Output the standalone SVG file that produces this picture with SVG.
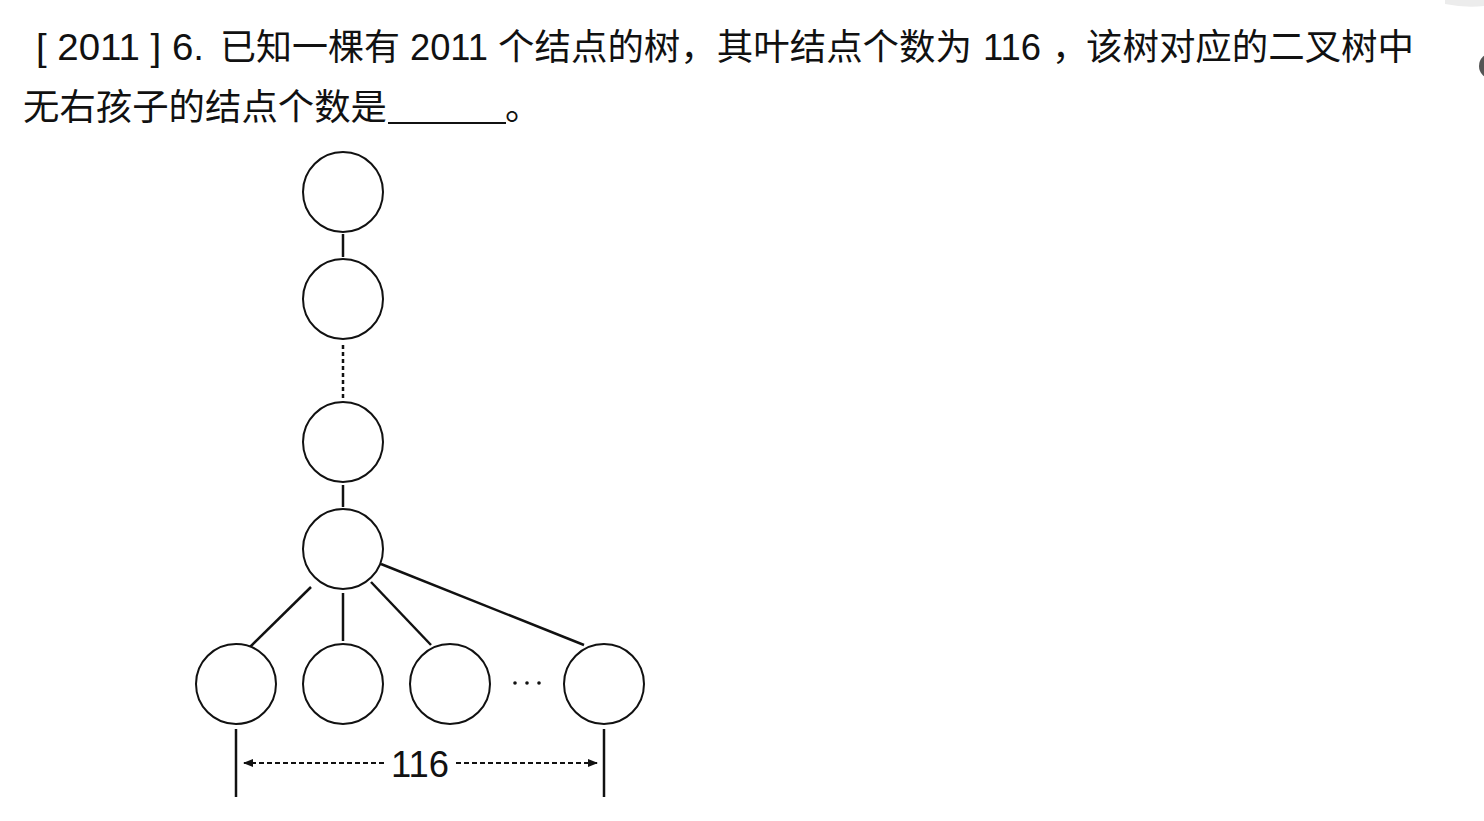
<svg xmlns="http://www.w3.org/2000/svg" width="1484" height="821" viewBox="0 0 1484 821">
<defs>
<style>
.t{font-family:"Liberation Sans","Noto Sans CJK SC",sans-serif;font-size:36px;fill:#111;}
.n{fill:#fff;stroke:#111;stroke-width:2;}
.e{stroke:#111;stroke-width:2.5;fill:none;}
.d{stroke:#111;stroke-width:2.5;fill:none;stroke-dasharray:4 3;}
.dim{stroke:#111;stroke-width:2;fill:none;stroke-dasharray:5 3;}
</style>
<marker id="ah" markerWidth="10" markerHeight="10" refX="9" refY="5" orient="auto" markerUnits="userSpaceOnUse">
<path d="M0,1 L10,5 L0,9 Z" fill="#111"/>
</marker>
</defs>
<rect width="1484" height="821" fill="#fff"/>
<path d="M1445,0 L1484,0 L1484,6 Q1465,8 1445,4 Z" fill="#ececec"/>
<circle cx="1492" cy="66" r="13" fill="#555"/>
<g id="question">
<text class="t" x="36" y="60" textLength="168" lengthAdjust="spacingAndGlyphs">[ 2011 ] 6.</text>
<text class="t" x="220" y="60" textLength="180" lengthAdjust="spacingAndGlyphs">已知一棵有</text>
<text class="t" x="410" y="60" textLength="78" lengthAdjust="spacingAndGlyphs">2011</text>
<text class="t" x="498" y="60" textLength="474" lengthAdjust="spacingAndGlyphs">个结点的树，其叶结点个数为</text>
<text class="t" x="983" y="60" textLength="58" lengthAdjust="spacingAndGlyphs">116</text>
<text class="t" x="1052" y="60">，</text>
<text class="t" x="1086" y="60" textLength="328" lengthAdjust="spacingAndGlyphs">该树对应的二叉树中</text>
<text class="t" x="23" y="120" textLength="364" lengthAdjust="spacingAndGlyphs">无右孩子的结点个数是</text>
<line x1="388" y1="123" x2="506" y2="123" stroke="#111" stroke-width="2"/>
<text class="t" x="505" y="120">。</text>
</g>
<g id="connectors">
<line class="e" x1="343" y1="234" x2="343" y2="257"/>
<line class="d" x1="343" y1="345" x2="343" y2="398"/>
<line class="e" x1="343" y1="485" x2="343" y2="507"/>
<line class="e" x1="311" y1="587" x2="249" y2="648"/>
<line class="e" x1="343" y1="593" x2="343" y2="641"/>
<line class="e" x1="371" y1="582" x2="431" y2="645"/>
<line class="e" x1="381" y1="564" x2="584" y2="645"/>
</g>
<g id="node1"><circle class="n" cx="343" cy="192" r="40"/></g>
<g id="node2"><circle class="n" cx="343" cy="299" r="40"/></g>
<g id="node3"><circle class="n" cx="343" cy="442" r="40"/></g>
<g id="node4"><circle class="n" cx="343" cy="549" r="40"/></g>
<g id="leaf1"><circle class="n" cx="236" cy="684" r="40"/></g>
<g id="leaf2"><circle class="n" cx="343" cy="684" r="40"/></g>
<g id="leaf3"><circle class="n" cx="450" cy="684" r="40"/></g>
<g id="leafN"><circle class="n" cx="604" cy="684" r="40"/></g>
<g id="ellipsis">
<circle cx="515" cy="683" r="1.8" fill="#111"/>
<circle cx="527" cy="683" r="1.8" fill="#111"/>
<circle cx="539" cy="683" r="1.8" fill="#111"/>
</g>
<g id="dimension">
<line x1="236" y1="729" x2="236" y2="797" stroke="#111" stroke-width="2.5"/>
<line x1="604" y1="729" x2="604" y2="797" stroke="#111" stroke-width="2.5"/>
<line class="dim" x1="384" y1="763" x2="244" y2="763" marker-end="url(#ah)"/>
<line class="dim" x1="456" y1="763" x2="597" y2="763" marker-end="url(#ah)"/>
<text class="t" x="420" y="777" text-anchor="middle" textLength="58" lengthAdjust="spacingAndGlyphs">116</text>
</g>
</svg>
